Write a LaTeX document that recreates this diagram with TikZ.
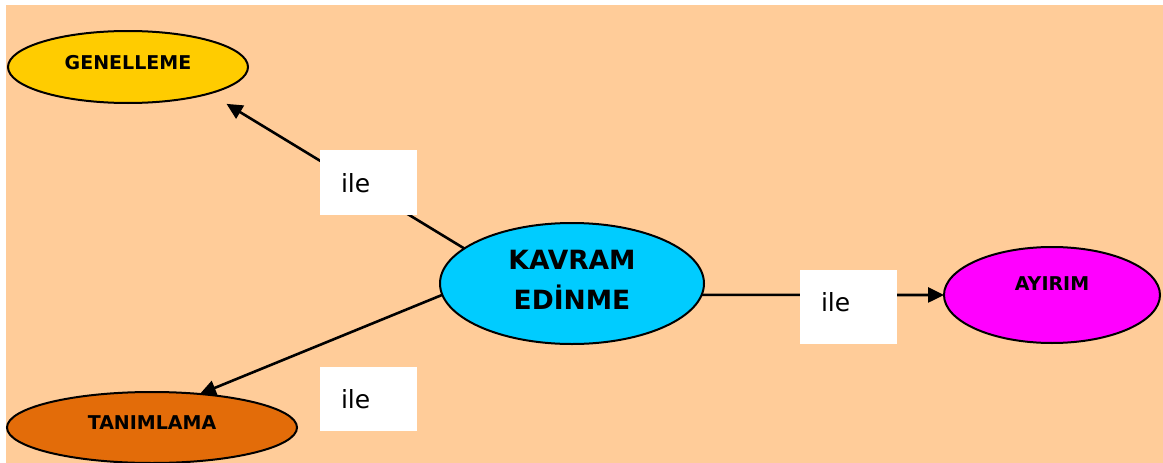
\documentclass[tikz,border=0pt]{standalone}
\usepackage{fontspec}
\setmainfont{DejaVu Sans}
\usetikzlibrary{arrows.meta,shapes.geometric}
\definecolor{kmpeach}{HTML}{FFCC99}
\definecolor{kmgold}{HTML}{FFCC00}
\definecolor{kmcyan}{HTML}{00CCFF}
\definecolor{kmmagenta}{HTML}{FF00FF}
\definecolor{kmorange}{HTML}{E36C09}

\begin{document}
\begin{tikzpicture}[x=1pt,y=-1pt,
  concept/.style={ellipse,draw=black,line width=2pt,inner sep=0pt,outer sep=0pt,
    font=\fontsize{19}{23}\selectfont\bfseries,text height=14pt},
  ilebox/.style={fill=white,inner xsep=21pt,inner ysep=0pt,text width=55pt,align=left,
    minimum width=97pt,minimum height=65pt,font=\fontsize{25}{30}\selectfont,
    text height=19pt,text depth=0pt},
  arr/.style={-{Triangle[length=16pt,width=15pt]},line width=2.6pt}]
  \useasboundingbox (0,0) rectangle (1163,463);
  \fill[kmpeach] (6,5) rectangle (1163,463);
  \node[concept,fill=kmgold,minimum width=240pt,minimum height=72pt,text depth=9pt]
    (genelleme) at (128,67) {GENELLEME};
  \node[concept,fill=kmcyan,minimum width=264pt,minimum height=121pt,align=center,
    font=\fontsize{26.5}{40}\selectfont\bfseries,text height=51pt] (kavram) at (572,283.5)
    {KAVRAM\\EDİNME};
  \node[concept,fill=kmmagenta,minimum width=216pt,minimum height=96pt,text depth=24pt]
    (ayirim) at (1052,295) {AYIRIM};
  \node[concept,fill=kmorange,minimum width=290pt,minimum height=71pt,text depth=10pt]
    (tanimlama) at (152,427.5) {TANIMLAMA};
  \draw[arr,shorten >=20pt] (kavram.162) -- (genelleme.342);
  \draw[arr] (kavram.185) -- (tanimlama.35);
  \draw[arr] (kavram.355) -- (ayirim.west);
  \node[ilebox] (ile1) at (368.5,182.5) {ile};
  \node[ilebox,minimum height=64pt] (ile2) at (368.5,399) {ile};
  \node[ilebox,minimum height=74pt,text depth=11pt] (ile3) at (848.5,307) {ile};
\end{tikzpicture}
\end{document}
